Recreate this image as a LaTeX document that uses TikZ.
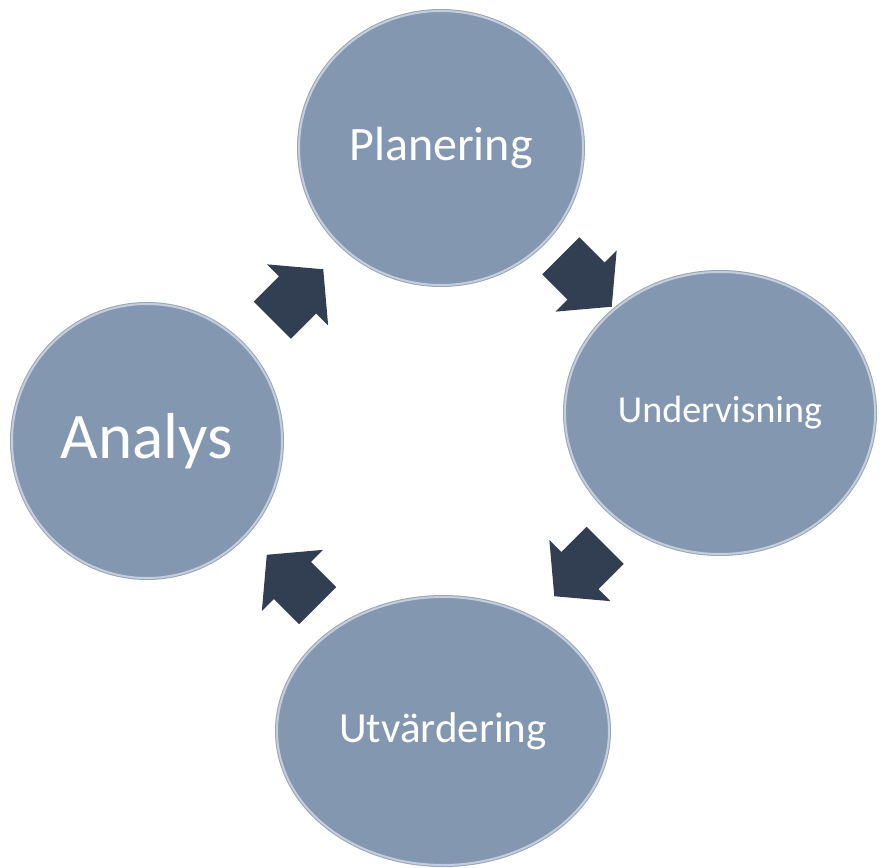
\documentclass[tikz,border=0pt]{standalone}
\usepackage{fontspec}
\setmainfont{Carlito}
\usetikzlibrary{shapes.geometric, shapes.arrows, calc}
\definecolor{stagefill}{HTML}{8497B0}
\definecolor{stagerim}{HTML}{C3CDDB}
\definecolor{stageedge}{HTML}{98A6BA}
\definecolor{turnfill}{HTML}{323E52}

\begin{document}
\begin{tikzpicture}[x=1pt, y=-1pt,
  stage/.style={ellipse, fill=stagefill, draw=stagerim, line width=2pt,
                inner sep=0pt, text=white,
                preaction={draw=stageedge, line width=4pt}},
  turn/.style={single arrow, fill=turnfill, inner xsep=0pt, inner ysep=26pt,
               minimum height=72pt,
               single arrow head extend=17pt, single arrow head indent=0pt,
               single arrow tip angle=100}
]
  \useasboundingbox (0,0) rectangle (880,867);

  % the four stages
  \node[stage, minimum width=284pt, minimum height=274pt,
        font=\fontsize{48}{48}\selectfont] (plan) at (441,148) {Planering};
  \node[stage, minimum width=310pt, minimum height=282pt,
        font=\fontsize{38}{38}\selectfont] (teach) at (720,413) {Undervisning};
  \node[stage, minimum width=332pt, minimum height=268pt,
        font=\fontsize{43}{43}\selectfont] (eval) at (443,731) {Utvärdering};
  \node[stage, minimum width=270pt, minimum height=274pt,
        font=\fontsize{65}{65}\selectfont] (anal) at (147,441) {Analys};

  % block arrows roughly halfway between stages
  \node[turn, rotate=45]   (a1) at ($(anal)!0.5!(plan)+(-4,8)$)  {};
  \node[turn, rotate=-45]  (a2) at ($(plan)!0.5!(teach)+(-2,-7)$) {};
  \node[turn, rotate=-135] (a3) at ($(teach)!0.5!(eval)+(6,-9)$)  {};
  \node[turn, rotate=135]  (a4) at ($(eval)!0.5!(anal)+(5,2)$)    {};
\end{tikzpicture}
\end{document}
